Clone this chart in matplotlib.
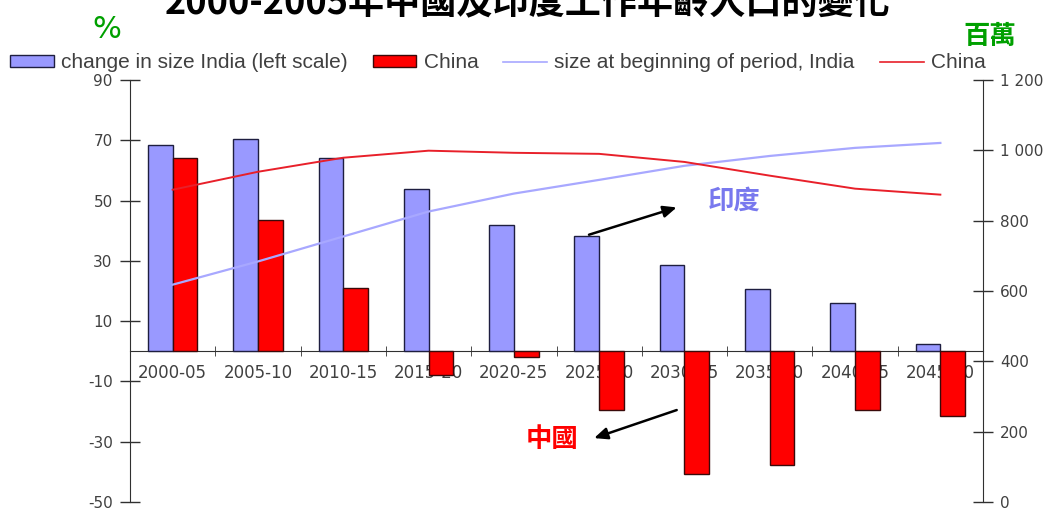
import matplotlib
matplotlib.use('Agg')
import matplotlib.pyplot as plt
import numpy as np
from matplotlib.patches import Patch
from matplotlib.lines import Line2D

# data
periods = ['2000-05', '2005-10', '2010-15', '2015-20', '2020-25',
           '2025-30', '2030-35', '2035-40', '2040-45', '2045-50']
india_change = [68.5, 70.5, 64.2, 54.0, 42.0, 38.4, 28.5, 20.5, 16.0, 2.3]
china_change = [64.0, 43.7, 20.9, -8.0, -2.0, -19.5, -40.7, -37.7, -19.5, -21.5]
india_size = [618, 684, 755, 826, 877, 916, 956, 984, 1007, 1021]
china_size = [888, 939, 979, 999, 993, 990, 967, 928, 891, 874]
left_ticks = [-50, -30, -10, 10, 30, 50, 70, 90]
right_ticks = [0, 200, 400, 600, 800, 1000, 1200]
right_labels = ['0', '200', '400', '600', '800', '1 000', '1 200']

colIndia = '#9999ff'
colChina = '#ff0000'
colLineIndia = '#a8a8ff'
colLineChina = '#e8202a'
colText = '#404040'
colGreen = '#00a000'
cjk = ['Noto Sans CJK TC', 'DejaVu Sans']

plt.rcParams['font.family'] = ['DejaVu Sans', 'Noto Sans CJK TC']
plt.rcParams['axes.unicode_minus'] = False

fig = plt.figure(figsize=(10.55, 5.09), dpi=100)
ax = fig.add_axes([130/1055, 1-502/509, 853/1055, 422/509])
x = np.arange(len(periods))
w = 0.29
ax.bar(x - w/2, india_change, w, color=colIndia, edgecolor='#1e1e40', linewidth=1, zorder=3)
ax.bar(x + w/2, china_change, w, color=colChina, edgecolor='#3a0a0a', linewidth=1, zorder=3)
ax.set_xlim(-0.5, len(periods) - 0.5)
ax.set_ylim(-50, 90)
ax.set_yticks(left_ticks)
ax.tick_params(axis='y', direction='inout', length=15, width=1, colors='#303030',
               labelcolor=colText, labelsize=11, pad=5)
ax.spines['top'].set_visible(False)
ax.spines['right'].set_visible(False)
ax.spines['bottom'].set_position(('data', 0))
ax.spines['bottom'].set_color('#303030')
ax.spines['left'].set_color('#303030')
ax.set_xticks(x)
ax.set_xticklabels(periods)
ax.set_xticks(x[:-1] + 0.5, minor=True)
ax.tick_params(axis='x', which='major', length=0, pad=9, labelsize=12, labelcolor=colText)
ax.tick_params(axis='x', which='minor', direction='inout', length=7, colors='#303030')
ax.patch.set_visible(False)

ax2 = ax.twinx()
ax2.plot(x, india_size, color=colLineIndia, linewidth=1.6)
ax2.plot(x, china_size, color=colLineChina, linewidth=1.4)
ax2.set_ylim(0, 1200)
ax2.set_yticks(right_ticks)
ax2.set_yticklabels(right_labels)
ax2.tick_params(axis='y', direction='inout', length=15, width=1, colors='#303030',
                labelcolor=colText, labelsize=11, pad=5)
for s in ['top', 'left', 'bottom']:
    ax2.spines[s].set_visible(False)
ax2.spines['right'].set_color('#303030')

# legend
handles = [Patch(facecolor=colIndia, edgecolor='#1e1e40', linewidth=1),
           Patch(facecolor=colChina, edgecolor='#3a0a0a', linewidth=1),
           Line2D([], [], color=colLineIndia, linewidth=1.2),
           Line2D([], [], color=colLineChina, linewidth=1.2)]
names = ['change in size India (left scale)', 'China',
         'size at beginning of period, India', 'China']
leg = fig.legend(handles, names, ncol=4, frameon=False, loc='center left',
                 bbox_to_anchor=(10/1055, 1-63/509),
                 handlelength=2.1, handleheight=0.45, handletextpad=0.35,
                 columnspacing=1.2, borderpad=0, borderaxespad=0,
                 labelcolor=colText, prop={'family': 'Liberation Sans', 'size': 15})

# title and unit labels
fig.text(0.5, 1-4/509, '2000-2005年中國及印度工作年齡人口的變化', ha='center', va='center',
         fontsize=26, fontweight='bold', family=cjk, color='black')
fig.text(107/1055, 1-30/509, '%', ha='center', va='center', fontsize=22,
         color=colGreen, family=['DejaVu Sans'])
fig.text(990/1055, 1-37/509, '百萬', ha='center', va='center', fontsize=19,
         fontweight='bold', color=colGreen, family=cjk)

# annotations
ax.annotate('', xy=(5.94, 48), xytext=(4.85, 38.4),
            arrowprops=dict(arrowstyle='-|>,head_length=0.8,head_width=0.35',
                            color='black', linewidth=1.8), zorder=5)
ax.text(6.58, 49.7, '印度', ha='center', va='center', fontsize=19, fontweight='bold',
        color='#7878ee', family=cjk, zorder=5)
ax.annotate('', xy=(4.91, -29.1), xytext=(5.94, -19.2),
            arrowprops=dict(arrowstyle='-|>,head_length=0.8,head_width=0.35',
                            color='black', linewidth=1.8), zorder=5)
ax.text(4.45, -29.1, '中國', ha='center', va='center', fontsize=19, fontweight='bold',
        color='#ff0000', family=cjk, zorder=5)

fig.savefig('out.png', dpi=100)
